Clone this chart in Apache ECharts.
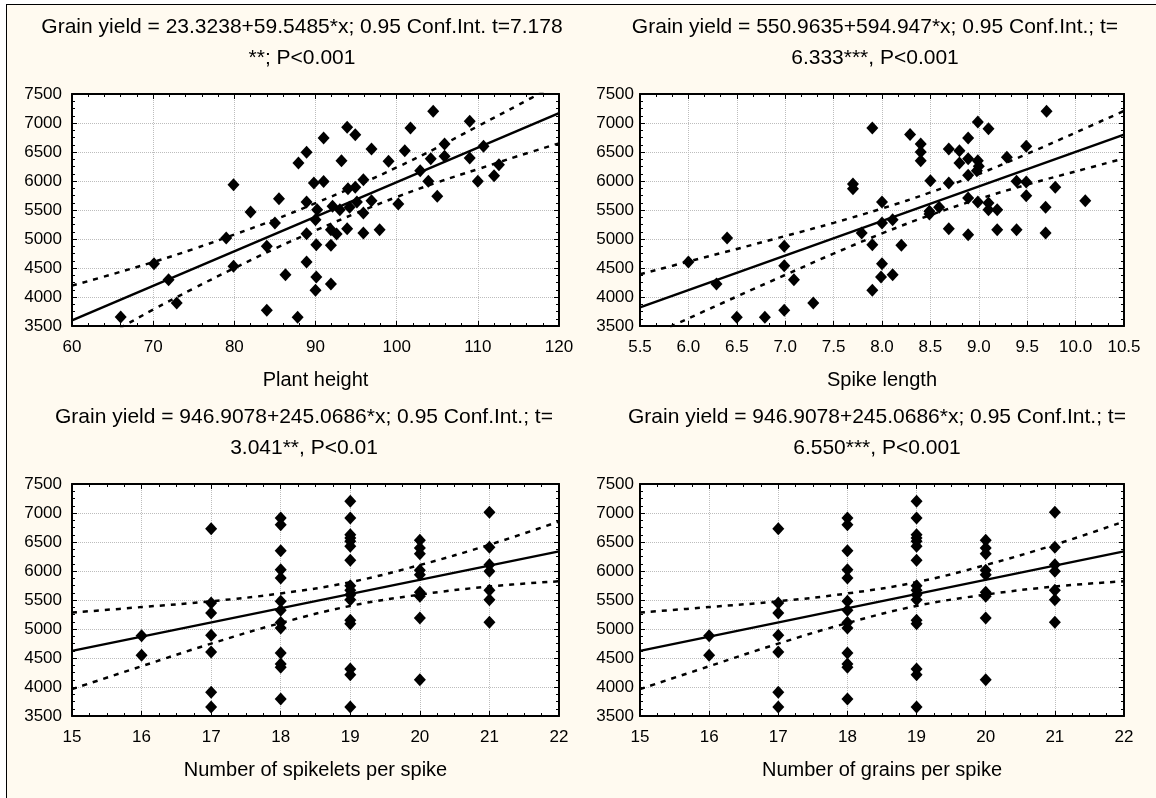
<!DOCTYPE html>
<html>
<head>
<meta charset="utf-8">
<style>
html,body{margin:0;padding:0;background:#fff;overflow:hidden;}
#frame{position:absolute;left:6px;top:4px;width:1160px;height:800px;background:#fffaf0;border-left:1.5px solid #000;border-top:1.5px solid #000;}
#chart{position:absolute;left:0;top:0;width:1156px;height:798px;}
</style>
<script src="https://cdn.jsdelivr.net/npm/echarts@6/dist/echarts.min.js"></script>
</head>
<body>
<div id="frame"></div>
<div id="chart"></div>
<script>
// plant height vs grain yield
var heightX = [91.0, 88.9, 87.9, 79.9, 89.8, 91.0, 85.5, 88.9, 82.0, 90.2, 85.0, 90.0, 79.0, 84.0, 88.9, 90.1, 70.1, 71.9, 79.9, 88.9, 86.3, 90.1, 90.0, 72.9, 84.0, 87.8, 66.0,
  104.5, 109.0, 93.9, 94.9, 101.7, 96.9, 105.9, 101.0, 93.2, 99.0, 104.2, 105.9, 109.0, 110.7, 112.6, 112.0, 110.0, 102.9, 103.9, 105.0,
  95.9, 94.0, 94.9, 92.1, 93.0, 94.2, 95.1, 96.9, 95.9, 100.2, 91.9, 92.6, 93.9, 95.9, 97.9, 91.9, 91.9];
var heightY = [6741, 6494, 6310, 5937, 5966, 5990, 5695, 5638, 5466, 5506, 5276, 5333, 5017, 4874, 5092, 4902, 4575, 4299, 4529, 4604, 4385, 4345, 4115, 3897, 3770, 3649, 3655,
  7201, 7029, 6925, 6799, 6914, 6552, 6638, 6523, 6351, 6339, 6385, 6425, 6397, 6598, 6282, 6092, 5994, 6178, 5994, 5736,
  6023, 5868, 5891, 5563, 5506, 5546, 5638, 5661, 5448, 5603, 5161, 5086, 5178, 5103, 5161, 4891, 4224];
var fitHeightX = [60, 120];
var fitHeightY = [3596, 7169];
var ciHeightX = [60, 65, 70, 75, 80, 85, 90, 95, 100, 105, 110, 115, 120];
var ciHeightUp = [4196, 4394, 4602, 4829, 5077, 5335, 5618, 5915, 6233, 6576, 6944, 7312, 7689];
var ciHeightLo = [2996, 3394, 3782, 4149, 4497, 4835, 5148, 5445, 5723, 5976, 6204, 6432, 6649];

// spike length vs grain yield
var spikeX = [7.90, 8.29, 7.70, 7.70, 8.00, 8.00, 8.11, 7.79, 7.90, 8.20, 8.00, 7.99, 8.11, 7.90, 6.00, 6.40, 6.29, 6.99, 6.99, 7.09, 7.29, 6.99, 6.50, 6.79,
  9.70, 8.99, 9.10, 8.40, 8.40, 8.40, 8.69, 8.80, 8.89, 8.89, 8.80, 8.99, 9.00, 8.98, 8.89, 9.29, 9.49, 8.50, 8.69, 9.39,
  9.49, 9.49, 9.79, 10.10, 8.89, 8.99, 9.10, 9.10, 9.19, 9.69, 8.59, 8.49, 8.49, 8.69, 8.89, 9.19, 9.39, 9.69];
var spikeY = [6914, 6800, 5948, 5868, 5638, 5276, 5333, 5103, 4902, 4891, 4575, 4345, 4385, 4115, 4604, 5017, 4224, 4874, 4540, 4299, 3897, 3770, 3649, 3649,
  7201, 7017, 6902, 6638, 6500, 6351, 6552, 6523, 6741, 6385, 6310, 6351, 6253, 6178, 6098, 6408, 6598, 6006, 5966, 5994,
  5983, 5747, 5891, 5661, 5707, 5638, 5621, 5506, 5506, 5546, 5546, 5477, 5431, 5178, 5075, 5161, 5161, 5103];
var fitSpikeX = [5.5, 10.5];
var fitSpikeY = [3823, 6798];
var ciSpikeX = [5.5, 6, 6.5, 7, 7.5, 8, 8.5, 9, 9.5, 10, 10.5];
var ciSpikeUp = [4393, 4611, 4828, 5051, 5278, 5526, 5803, 6120, 6468, 6835, 7208];
var ciSpikeLo = [3253, 3631, 4008, 4381, 4748, 5096, 5413, 5690, 5938, 6165, 6388];

// spikelets (and grains) per spike vs grain yield - both lower panels show the same points
var spikeletX = [16, 16,
  17, 17, 17, 17, 17, 17, 17,
  18, 18, 18, 18, 18, 18, 18, 18, 18, 18, 18, 18, 18,
  19, 19, 19, 19, 19, 19, 19, 19, 19, 19, 19, 19, 19, 19, 19, 19,
  20, 20, 20, 20, 20, 20, 20, 20, 20,
  21, 21, 21, 21, 21, 21, 21];
var spikeletY = [4885, 4546,
  6730, 5448, 5276, 4891, 4604, 3908, 3655,
  6914, 6799, 6351, 6023, 5879, 5477, 5322, 5110, 5017, 4586, 4397, 4339, 3793,
  7201, 6914, 6626, 6569, 6511, 6425, 6184, 5747, 5667, 5592, 5506, 5150, 5090, 4310, 4213, 3655,
  6529, 6397, 6299, 6011, 5937, 5632, 5563, 5190, 4126,
  7011, 6408, 6109, 5994, 5667, 5506, 5115];
var fitSpikeletX = [15, 22];
var fitSpikeletY = [4623, 6338];
var ciSpikeletX = [15, 16, 17, 18, 19, 20, 21, 22];
var ciSpikeletUp = [5283, 5378, 5478, 5613, 5808, 6103, 6453, 6853];
var ciSpikeletLo = [3963, 4358, 4748, 5103, 5398, 5593, 5733, 5823];

var yTicks = {min: 3500, max: 7500, step: 500};

var FONT = '"Liberation Sans", Arial, sans-serif';

function pairs(xs, ys) {
  var out = [];
  for (var i = 0; i < xs.length; i++) out.push([xs[i], ys[i]]);
  return out;
}

var panels = [
  {left: 72, top: 94, width: 487, titleX: 302, titleY: 27,
   title: ['Grain yield = 23.3238+59.5485*x; 0.95 Conf.Int. t=7.178', '**; P<0.001'],
   name: 'Plant height', min: 60, max: 120, step: 10, minor: 5, dec: 0, yMargin: 10,
   xs: heightX, ys: heightY, fx: fitHeightX, fy: fitHeightY, cx: ciHeightX, cu: ciHeightUp, cl: ciHeightLo},
  {left: 640, top: 94, width: 484, titleX: 875, titleY: 27,
   title: ['Grain yield = 550.9635+594.947*x; 0.95 Conf.Int.; t=', '6.333***, P<0.001'],
   name: 'Spike length', min: 5.5, max: 10.5, step: 0.5, minor: 3, dec: 1, yMargin: 6,
   xs: spikeX, ys: spikeY, fx: fitSpikeX, fy: fitSpikeY, cx: ciSpikeX, cu: ciSpikeUp, cl: ciSpikeLo},
  {left: 72, top: 484, width: 487, titleX: 304, titleY: 417,
   title: ['Grain yield = 946.9078+245.0686*x; 0.95 Conf.Int.; t=', '3.041**, P<0.01'],
   name: 'Number of spikelets per spike', min: 15, max: 22, step: 1, minor: 4, dec: 0, yMargin: 10,
   xs: spikeletX, ys: spikeletY, fx: fitSpikeletX, fy: fitSpikeletY, cx: ciSpikeletX, cu: ciSpikeletUp, cl: ciSpikeletLo},
  {left: 640, top: 484, width: 484, titleX: 877, titleY: 417,
   title: ['Grain yield = 946.9078+245.0686*x; 0.95 Conf.Int.; t=', '6.550***, P<0.001'],
   name: 'Number of grains per spike', min: 15, max: 22, step: 1, minor: 4, dec: 0, yMargin: 6,
   xs: spikeletX, ys: spikeletY, fx: fitSpikeletX, fy: fitSpikeletY, cx: ciSpikeletX, cu: ciSpikeletUp, cl: ciSpikeletLo}
];

var grids = [], xAxes = [], yAxes = [], series = [], texts = [];
var axisLine = {show: true, onZero: false, lineStyle: {color: '#000', width: 2}};
var tick = {show: true, inside: true, length: 5, lineStyle: {color: '#000', width: 1}};

panels.forEach(function (p, i) {
  grids.push({left: p.left, top: p.top, width: p.width, height: 232, show: true,
    backgroundColor: '#fff', borderWidth: 0});
  var dec = p.dec;
  xAxes.push({
    gridIndex: i, type: 'value', position: 'bottom', min: p.min, max: p.max, interval: p.step,
    axisLine: axisLine, axisTick: tick,
    minorTick: {show: true, splitNumber: p.minor, length: 3, lineStyle: {color: '#000'}},
    splitLine: {show: true, lineStyle: {color: '#bdbdbd', type: 'dotted', width: 1}},
    axisLabel: {color: '#000', fontSize: 17, fontFamily: FONT, margin: 13,
      formatter: function (v) { return v.toFixed(dec); }},
    name: p.name, nameLocation: 'middle', nameGap: 44,
    nameTextStyle: {color: '#000', fontSize: 20, fontFamily: FONT}
  });
  xAxes.push({
    gridIndex: i, type: 'value', position: 'top', min: p.min, max: p.max, interval: p.step,
    axisLine: axisLine, axisTick: tick,
    minorTick: {show: true, splitNumber: p.minor, length: 3, lineStyle: {color: '#000'}},
    splitLine: {show: false}, axisLabel: {show: false}
  });
  yAxes.push({
    gridIndex: i, type: 'value', position: 'left', min: yTicks.min, max: yTicks.max, interval: yTicks.step,
    axisLine: axisLine, axisTick: tick,
    minorTick: {show: true, splitNumber: 4, length: 3, lineStyle: {color: '#000'}},
    splitLine: {show: true, lineStyle: {color: '#bdbdbd', type: 'dotted', width: 1}},
    axisLabel: {color: '#000', fontSize: 17, fontFamily: FONT, margin: p.yMargin,
      formatter: function (v) { return String(v); }}
  });
  yAxes.push({
    gridIndex: i, type: 'value', position: 'right', min: yTicks.min, max: yTicks.max, interval: yTicks.step,
    axisLine: axisLine, axisTick: tick,
    minorTick: {show: true, splitNumber: 4, length: 3, lineStyle: {color: '#000'}},
    splitLine: {show: false}, axisLabel: {show: false}
  });
  var xi = 2 * i, yi = 2 * i;
  series.push({type: 'line', xAxisIndex: xi, yAxisIndex: yi, data: pairs(p.cx, p.cu), smooth: 0.4,
    symbol: 'none', silent: true, z: 3, lineStyle: {color: '#000', width: 2.5, type: [5, 6]}});
  series.push({type: 'line', xAxisIndex: xi, yAxisIndex: yi, data: pairs(p.cx, p.cl), smooth: 0.4,
    symbol: 'none', silent: true, z: 3, lineStyle: {color: '#000', width: 2.5, type: [5, 6]}});
  series.push({type: 'line', xAxisIndex: xi, yAxisIndex: yi, data: pairs(p.fx, p.fy),
    symbol: 'none', silent: true, z: 4, lineStyle: {color: '#000', width: 2.4}});
  series.push({type: 'scatter', xAxisIndex: xi, yAxisIndex: yi, data: pairs(p.xs, p.ys),
    symbol: 'diamond', symbolSize: [12, 13], silent: true, z: 5,
    itemStyle: {color: '#000', opacity: 1}});
  p.title.forEach(function (t, k) {
    texts.push({type: 'text', x: p.titleX, y: p.titleY + k * 31, silent: true,
      style: {text: t, font: '21px ' + FONT, fill: '#000',
        textAlign: 'center', textVerticalAlign: 'middle', align: 'center', verticalAlign: 'middle'}});
  });
});

var chart = echarts.init(document.getElementById('chart'));
chart.setOption({
  animation: false,
  grid: grids,
  xAxis: xAxes,
  yAxis: yAxes,
  series: series,
  graphic: texts
});
</script>
</body>
</html>
